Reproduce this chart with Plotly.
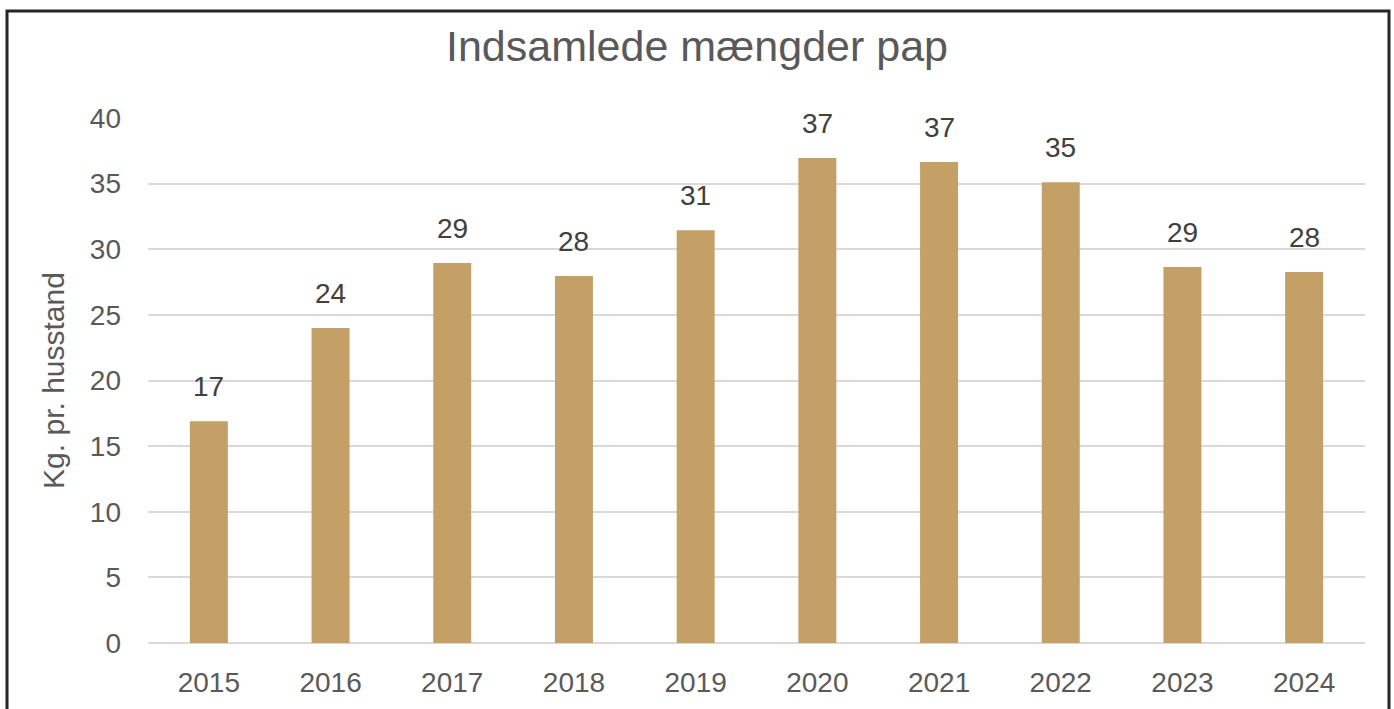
import plotly.graph_objects as go

years = ["2015", "2016", "2017", "2018", "2019", "2020", "2021", "2022", "2023", "2024"]
kg_per_household = [16.9, 24.0, 28.95, 27.96, 31.45, 36.95, 36.65, 35.1, 28.65, 28.27]
y_ticks = [0, 5, 10, 15, 20, 25, 30, 35, 40]

W, H = 1394, 709
ml, mr, mt, mb = 148, 29, 118, 66
pw, ph = W - ml - mr, H - mt - mb

FONT = "Liberation Sans, Arial, sans-serif"
GREY = "#595959"

fig = go.Figure()
fig.add_trace(go.Bar(
    x=years, y=kg_per_household,
    marker=dict(color="#C4A066", line=dict(width=0)),
    hoverinfo="x+y",
))

for i, v in enumerate(kg_per_household):
    fig.add_annotation(
        x=i, y=v, text=f"{v:.0f}", showarrow=False,
        yanchor="bottom", yshift=17,
        font=dict(family=FONT, size=28, color="#404040"),
    )

# outer frame
px = lambda x: (x - ml) / pw
py = lambda y: (H - mb - y) / ph
fig.add_shape(type="rect", xref="paper", yref="paper",
              x0=px(7), x1=px(1389), y0=py(740), y1=py(11),
              line=dict(color="#262626", width=3), fillcolor="rgba(0,0,0,0)")

fig.update_layout(
    width=W, height=H,
    margin=dict(l=ml, r=mr, t=mt, b=mb, autoexpand=False),
    paper_bgcolor="white", plot_bgcolor="white",
    showlegend=False,
    bargap=0.688,
    title=dict(text="Indsamlede mængder pap", x=0.5, xanchor="center",
               xref="container", y=1 - 46 / H, yanchor="middle", yref="container",
               font=dict(family=FONT, size=43, color=GREY)),
    font=dict(family=FONT, color=GREY),
)
fig.update_xaxes(
    type="category", range=[-0.5, len(years) - 0.5],
    showgrid=False, showline=False, zeroline=False,
    tickfont=dict(family=FONT, size=28, color=GREY),
    ticklabelstandoff=20,
)
fig.update_yaxes(
    range=[0, 40], tickvals=y_ticks,
    showgrid=True, gridcolor="#D9D9D9", gridwidth=2,
    zeroline=True, zerolinecolor="#D9D9D9", zerolinewidth=2,
    showline=False,
    tickfont=dict(family=FONT, size=28, color=GREY),
    ticklabelstandoff=26,
    title=dict(text="Kg. pr. husstand", standoff=16,
               font=dict(family=FONT, size=30, color=GREY)),
)

fig.write_html("out.html", config={"displayModeBar": False},
               post_script="document.body.style.margin='0px';document.body.style.overflow='hidden';")
